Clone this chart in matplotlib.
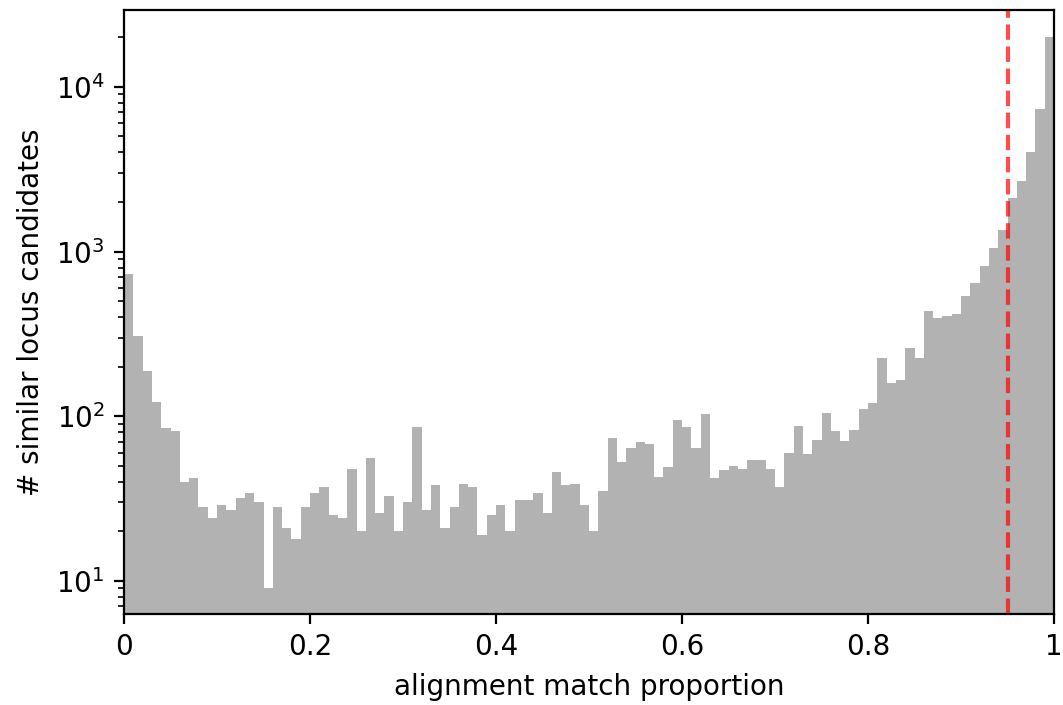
import numpy as np
import matplotlib
matplotlib.use("Agg")
import matplotlib.pyplot as plt

# counts per bin of alignment match proportion (100 bins on [0, 1])
bin_edges = np.linspace(0, 1, 101)
counts = [
    731, 307, 187, 122, 85, 81, 40, 42, 28, 24,
    29, 27, 32, 34, 30, 9, 28, 21, 18, 28,
    34, 37, 25, 24, 48, 20, 56, 26, 33, 20,
    30, 86, 27, 38, 21, 28, 39, 37, 19, 25,
    29, 20, 31, 31, 34, 26, 46, 38, 39, 29,
    20, 35, 74, 53, 64, 70, 68, 43, 49, 95,
    86, 64, 103, 42, 47, 50, 48, 54, 54, 48,
    37, 60, 87, 59, 72, 104, 81, 71, 83, 111,
    121, 225, 159, 166, 259, 225, 438, 394, 408, 418,
    538, 647, 818, 1056, 1353, 2107, 2684, 4008, 7340, 20000,
]
threshold = 0.95
xtick_pos = [0, 0.2, 0.4, 0.6, 0.8, 1]
xtick_labels = ["0", "0.2", "0.4", "0.6", "0.8", "1"]

centers = (bin_edges[:-1] + bin_edges[1:]) / 2

fig = plt.figure(figsize=(1063 / 200, 705 / 200), dpi=200)
ax = fig.add_axes([124 / 1063, 1 - 614 / 705, 930 / 1063, 604 / 705])

ax.hist(centers, bins=bin_edges, weights=counts, color="gray", alpha=0.6, log=True)
ax.axvline(threshold, color="red", linestyle="--", alpha=0.7)

ax.set_xlim(0, 1)
ax.set_ylim(6.3, 29300)
ax.set_xticks(xtick_pos)
ax.set_xticklabels(xtick_labels)
ax.set_xlabel("alignment match proportion")
ax.set_ylabel("# similar locus candidates")

fig.savefig("out.png", dpi=200)
